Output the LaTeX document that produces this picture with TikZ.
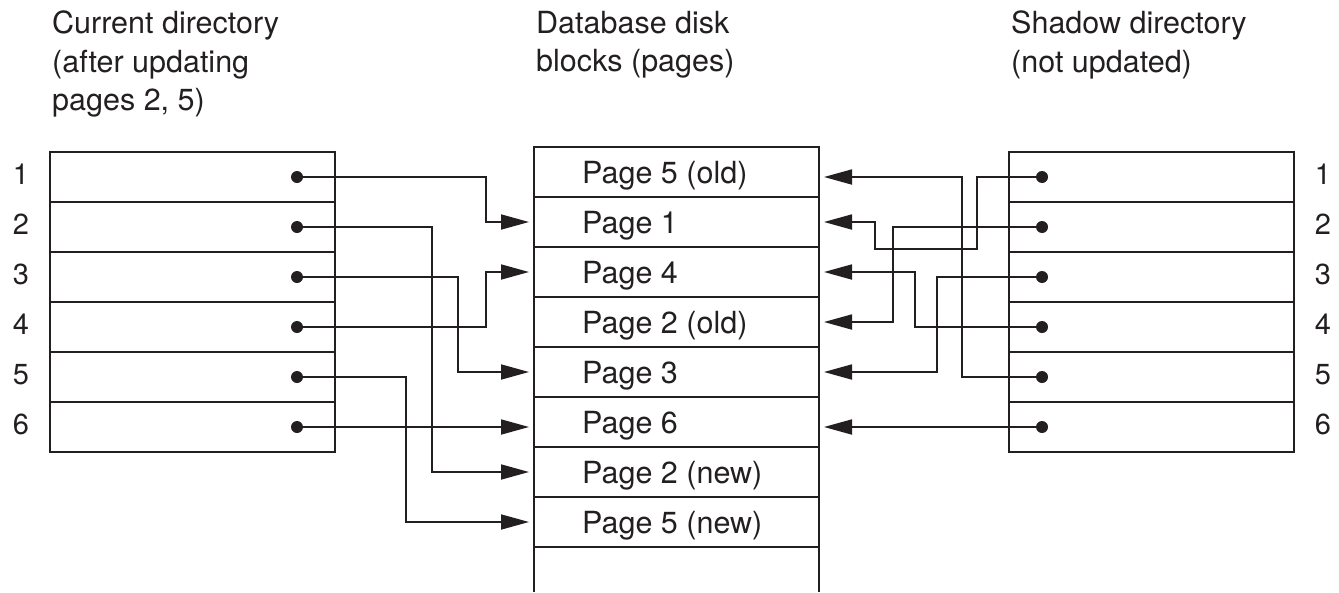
\documentclass[tikz,border=0pt]{standalone}
\usepackage{fontspec}
\setmainfont{TeX Gyre Heros}
\usetikzlibrary{arrows.meta}
\definecolor{ink}{HTML}{231F20}
\begin{document}
\begin{tikzpicture}[x=1pt,y=-1pt,
  cell/.style={draw=ink, line width=2pt, minimum width=285pt, minimum height=50pt, inner sep=0pt, outer sep=0pt},
  ptext/.style={anchor=base west, inner sep=0pt, text=ink, font=\fontsize{30.5pt}{36pt}\selectfont},
  title/.style={anchor=north west, inner sep=0pt, align=left, text=ink, font=\fontsize{30.5pt}{38.5pt}\selectfont},
  num/.style={anchor=base, inner sep=0pt, text=ink, font=\fontsize{29pt}{34pt}\selectfont},
  dot/.style={circle, fill=ink, inner sep=0pt, minimum size=12pt},
  conn/.style={draw=ink, line width=1.8pt, -{Triangle[length=28pt,width=15pt]}, shorten >=5pt}
]
\useasboundingbox (0,0) rectangle (1339,592);

% titles
\node[title] (tl) at (52,11) {Current directory\\(after updating\\pages 2, 5)};
\node[title] (tm) at (536,11) {Database disk\\blocks (pages)};
\node[title] (tr) at (1011,11) {Shadow directory\\(not updated)};

% current directory
\foreach \i in {1,...,6} {
  \node[cell] (L\i) at (192.5,127+50*\i) {};
  \node[dot] (ld\i) at (297,127+50*\i) {};
  \node[num] (ln\i) at (21,134+50*\i) {\i};
}

% shadow directory
\foreach \i in {1,...,6} {
  \node[cell] (R\i) at (1151.5,127+50*\i) {};
  \node[dot] (rd\i) at (1042,127+50*\i) {};
  \node[num] (rn\i) at (1323,134+50*\i) {\i};
}

% database pages
\foreach \i/\t in {1/{Page 5 (old)},2/{Page 1},3/{Page 4},4/{Page 2 (old)},5/{Page 3},6/{Page 6},7/{Page 2 (new)},8/{Page 5 (new)}} {
  \node[cell] (M\i) at (676.5,122+50*\i) {};
  \node[ptext] (T\i) at ([xshift=48pt,yshift=-11pt]M\i.west) {\t};
}
\node[minimum width=285pt, minimum height=45pt, inner sep=0pt, outer sep=0pt] (M9) at (676.5,569.5) {};
\draw[ink, line width=2pt] (M9.south west) -- (M9.north west) -- (M9.north east) -- (M9.south east);

% current directory pointers
\draw[conn] (ld1.center) -| (486,222) -- (M2.west);
\draw[conn] (ld2.center) -| (432,472) -- (M7.west);
\draw[conn] (ld3.center) -| (458,372) -- (M5.west);
\draw[conn] (ld4.center) -| (486,272) -- (M3.west);
\draw[conn] (ld5.center) -| (406,522) -- (M8.west);
\draw[conn] (ld6.center) -- (M6.west |- ld6);

% shadow directory pointers
\draw[conn] (rd1.center) -| (977,249) -| (875,222) -- (M2.east);
\draw[conn] (rd2.center) -| (893,322) -- (M4.east);
\draw[conn] (rd3.center) -| (937,372) -- (M5.east);
\draw[conn] (rd4.center) -| (915,272) -- (M3.east);
\draw[conn] (rd5.center) -| (962,177) -- (M1.east |- rd1);
\draw[conn] (rd6.center) -- (M6.east |- rd6);
\end{tikzpicture}
\end{document}
